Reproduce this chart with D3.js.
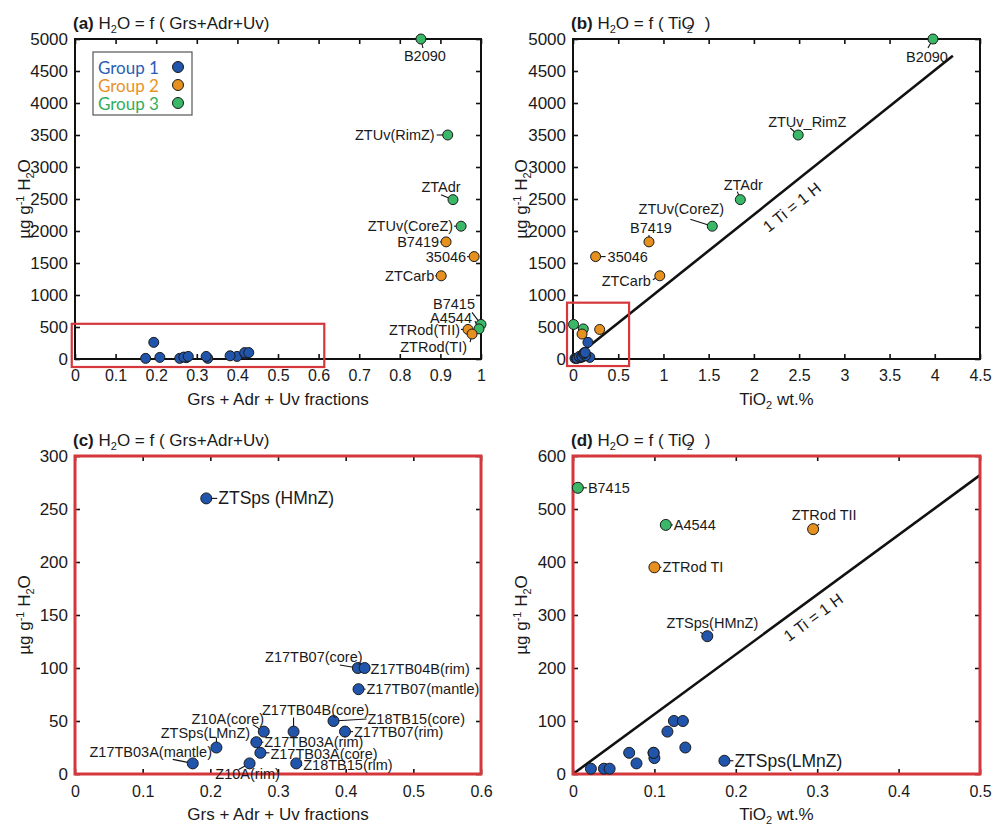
<!DOCTYPE html>
<html><head><meta charset="utf-8">
<script src="https://cdn.jsdelivr.net/npm/d3@7"></script>
<style>
body{margin:0;background:#fff}
svg{display:block}
text{font-family:"Liberation Sans",Arial,Helvetica,sans-serif;fill:#1a1a1a}
</style>
</head><body>
<svg id="chart" width="996" height="827"></svg>
<script>
// ---------------- DATA ----------------
const names = ["B2090","ZTUv(RimZ)","ZTAdr","ZTUv(CoreZ)","B7415","A4544",
  "B7419","35046","ZTCarb","ZTRod(TII)","ZTRod(TI)",
  "ZTSps(HMnZ)","ZTSps(LMnZ)","Z17TB03A(mantle)","Z10A(rim)","Z18TB15(rim)","Z17TB03A(core)",
  "Z17TB03A(rim)","Z10A(core)","Z17TB04B(core)","Z17TB07(rim)","Z18TB15(core)","Z17TB07(mantle)",
  "Z17TB07(core)","Z17TB04B(rim)"];
const groups = [3,3,3,3,3,3, 2,2,2,2,2, 1,1,1,1,1,1,1,1,1,1,1,1,1,1];
const grsFrac = [0.852,0.918,0.931,0.951,1.0,0.995, 0.914,0.983,0.902,0.968,0.978,
  0.194,0.209,0.174,0.258,0.327,0.274,0.268,0.279,0.323,0.399,0.382,0.419,0.418,0.428];
const tio2 = [3.98,2.49,1.85,1.54,0.006,0.114, 0.84,0.25,0.96,0.295,0.100,
  0.165,0.186,0.022,0.038,0.045,0.078,0.100,0.069,0.099,0.099,0.138,0.116,0.124,0.135];
const h2o = [5000,3500,2490,2075,540,470, 1830,1600,1300,462,390,
  260,25,10,10,10,20,30,40,40,40,50,80,100,100];

const groupNames = ["Group 1","Group 2","Group 3"];

const xTicksA = [0,0.1,0.2,0.3,0.4,0.5,0.6,0.7,0.8,0.9,1];
const xLabelsA = ["0","0.1","0.2","0.3","0.4","0.5","0.6","0.7","0.8","0.9","1"];
const yTicksAB = [0,500,1000,1500,2000,2500,3000,3500,4000,4500,5000];
const xTicksB = [0,0.5,1,1.5,2,2.5,3,3.5,4,4.5];
const xLabelsB = ["0","0.5","1","1.5","2","2.5","3","3.5","4","4.5"];
const xTicksC = [0,0.1,0.2,0.3,0.4,0.5,0.6];
const xLabelsC = ["0","0.1","0.2","0.3","0.4","0.5","0.6"];
const yTicksC = [0,50,100,150,200,250,300];
const xTicksD = [0,0.1,0.2,0.3,0.4,0.5];
const xLabelsD = ["0","0.1","0.2","0.3","0.4","0.5"];
const yTicksD = [0,100,200,300,400,500,600];

// 1 Ti = 1 H : H2O (µg/g) per TiO2 wt.%
const tiSlope = 0.01/79.87*0.5*18.015*1e6;

// label texts per panel
const labelTextA = {"B2090":"B2090","ZTUv(RimZ)":"ZTUv(RimZ)","ZTAdr":"ZTAdr","ZTUv(CoreZ)":"ZTUv(CoreZ)",
  "B7419":"B7419","35046":"35046","ZTCarb":"ZTCarb","B7415":"B7415","A4544":"A4544",
  "ZTRod(TII)":"ZTRod(TII)","ZTRod(TI)":"ZTRod(TI)"};
const labelTextB = {"B2090":"B2090","ZTUv(RimZ)":"ZTUv_RimZ","ZTAdr":"ZTAdr","ZTUv(CoreZ)":"ZTUv(CoreZ)",
  "B7419":"B7419","35046":"35046","ZTCarb":"ZTCarb"};
const labelTextC = {"ZTSps(HMnZ)":"ZTSps (HMnZ)","Z17TB07(core)":"Z17TB07(core)","Z17TB04B(rim)":"Z17TB04B(rim)",
  "Z17TB07(mantle)":"Z17TB07(mantle)","Z18TB15(core)":"Z18TB15(core)","Z17TB07(rim)":"Z17TB07(rim)",
  "Z17TB04B(core)":"Z17TB04B(core)","Z10A(core)":"Z10A(core)","Z17TB03A(rim)":"Z17TB03A(rim)",
  "Z17TB03A(core)":"Z17TB03A(core)","Z18TB15(rim)":"Z18TB15(rim)","Z10A(rim)":"Z10A(rim)",
  "ZTSps(LMnZ)":"ZTSps(LMnZ)","Z17TB03A(mantle)":"Z17TB03A(mantle)"};
const labelTextD = {"B7415":"B7415","A4544":"A4544","ZTRod(TI)":"ZTRod TI","ZTRod(TII)":"ZTRod TII",
  "ZTSps(HMnZ)":"ZTSps(HMnZ)","ZTSps(LMnZ)":"ZTSps(LMnZ)"};

// ---------------- LAYOUT / STYLE ----------------
const fill = {1:"#2055ab",2:"#e5901f",3:"#3ab868"};
const legendCol = {1:"#2a5db3",2:"#e8922a",3:"#2fae5c"};
const RED = "#d5373b";
// label offsets: [tx,ty,anchor,lx,ly,size]
const offA = {"B2090":[4,17,"middle",2,9],"ZTUv(RimZ)":[-13,0,"end",-11,0],"ZTAdr":[-12,-13,"middle",-12,-5],
  "ZTUv(CoreZ)":[-8,0,"end",-7,0],"B7419":[-7,0,"end",-6,0],"35046":[-8,0,"end",-7,0],"ZTCarb":[-7,0,"end",-6,0],
  "B7415":[-27,-20,"middle",-9,-12],"A4544":[-7,-11,"end",-4,-8],"ZTRod(TII)":[-8,1,"end",-7,0],
  "ZTRod(TI)":[-5,13,"end",-2,8]};
const offB = {"B2090":[-6,18,"middle",-5,9],"ZTUv(RimZ)":[9,-13,"middle",-8,-7],"ZTAdr":[3,-15,"middle",-3,-8],
  "ZTUv(CoreZ)":[-31,-17,"middle",-22,-7],"B7419":[2,-14,"middle",0,-7],"35046":[12,0,"start",10,0],
  "ZTCarb":[-9,5,"end",-7,4]};
const offC = {"ZTSps(HMnZ)":[12,0,"start",11,0,17.5],"Z17TB07(core)":[-44,-11,"middle",-18,-3],
  "Z17TB04B(rim)":[6,1,"start",5,0],"Z17TB07(mantle)":[8,0,"start",7,0],"Z18TB15(core)":[34,-2,"start",33,-2],
  "Z17TB07(rim)":[9,0,"start",8,0],"Z17TB04B(core)":[22,-22,"middle",0,-14],"Z10A(core)":[-36,-13,"middle",-11,-7],
  "Z17TB03A(rim)":[8,0,"start",7,0],"Z17TB03A(core)":[10,1,"start",9,0],"Z18TB15(rim)":[7,2,"start",6,2],
  "Z10A(rim)":[-2,11,"middle",-11,6],"ZTSps(LMnZ)":[-11,-15,"middle",0,-10],"Z17TB03A(mantle)":[-42,-11,"middle",-20,-4]};
const offD = {"B7415":[10,0,"start",9,0],"A4544":[8,0,"start",7,0],"ZTRod(TI)":[8,0,"start",7,0],
  "ZTRod(TII)":[11,-14,"middle",6,-5],"ZTSps(HMnZ)":[5,-13,"middle",-7,-4],"ZTSps(LMnZ)":[10,0,"start",9,0,17.5]};

const svg = d3.select("#chart");
const rows = names.map((n,i)=>({name:n,group:groups[i],frac:grsFrac[i],ti:tio2[i],h:h2o[i]}));

function richText(sel, parts){
  parts.forEach(p=>{
    const t = sel.append("tspan").text(p.t);
    if(p.dy) t.attr("dy",p.dy);
    if(p.dx) t.attr("dx",p.dx);
    if(p.fs) t.attr("font-size",p.fs);
    if(p.bold) t.attr("font-weight","bold");
  });
}

function drawPanel(p){
  const g = svg.append("g");
  const x = d3.scaleLinear().domain(p.xDom).range([p.L,p.R]);
  const y = d3.scaleLinear().domain(p.yDom).range([p.B,p.T]);
  const tk = 5;
  const styleAxis = a => {a.select(".domain").remove();
    a.selectAll("line").attr("stroke","#111").attr("stroke-width",1.6);
    a.attr("font-family",null).attr("font-size",null);
    a.selectAll("text").attr("fill","#1a1a1a");};
  g.append("g").attr("transform",`translate(0,${p.B})`)
    .call(d3.axisBottom(x).tickValues(p.xTicks).tickSize(-tk).tickPadding(p.xPad).tickFormat((d,i)=>p.xLabels[i]))
    .call(styleAxis).selectAll("text").style("font-size","16px");
  g.append("g").attr("transform",`translate(0,${p.T})`)
    .call(d3.axisTop(x).tickValues(p.xTicks).tickSize(-tk).tickFormat(""))
    .call(styleAxis);
  g.append("g").attr("transform",`translate(${p.L},0)`)
    .call(d3.axisLeft(y).tickValues(p.yTicks).tickSize(-tk).tickPadding(7).tickFormat(d3.format("d")))
    .call(styleAxis).selectAll("text").style("font-size","17px");
  g.append("g").attr("transform",`translate(${p.R},0)`)
    .call(d3.axisRight(y).tickValues(p.yTicks).tickSize(-tk).tickFormat(""))
    .call(styleAxis);

  // reference line
  if(p.line){
    const xe = p.line;
    g.append("line").attr("x1",x(0)).attr("y1",y(0)).attr("x2",x(xe)).attr("y2",y(xe*tiSlope))
      .attr("stroke","#111").attr("stroke-width",2.6);
    const ang = Math.atan2(y(0)-y(tiSlope), x(1)-x(0))*180/Math.PI;
    const lx = x(p.lineLabelX), ly = y(p.lineLabelX*tiSlope)+p.lineLabelDy;
    g.append("text").attr("transform",`translate(${lx},${ly}) rotate(${-ang})`)
      .attr("text-anchor","middle").attr("dominant-baseline","central")
      .style("font-size","16px").text("1 Ti = 1 H");
  }

  // frame
  g.append("rect").attr("x",p.L).attr("y",p.T).attr("width",p.R-p.L).attr("height",p.B-p.T)
    .attr("fill","none").attr("stroke",p.frameColor).attr("stroke-width",p.frameW);

  // zoom box
  if(p.zoomBox){
    const z = p.zoomBox;
    g.append("rect").attr("x",x(z[0])).attr("y",y(z[3])).attr("width",x(z[1])-x(z[0])).attr("height",y(z[2])-y(z[3]))
      .attr("fill","none").attr("stroke",RED).attr("stroke-width",2.2);
  }

  const data = rows.filter(p.filter);
  const px = d => x(d[p.xKey]), py = d => y(d.h);
  // leaders
  data.filter(d=>p.off[d.name]).forEach(d=>{
    const o = p.off[d.name];
    g.append("line").attr("x1",px(d)).attr("y1",py(d)).attr("x2",px(d)+o[3]).attr("y2",py(d)+o[4])
      .attr("stroke","#111").attr("stroke-width",1.1);
  });
  g.selectAll("circle.pt").data(data).join("circle").attr("class","pt")
    .attr("cx",px).attr("cy",py).attr("r",p.r)
    .attr("fill",d=>fill[d.group]).attr("stroke","#1a1a1a").attr("stroke-width",1);
  data.filter(d=>p.off[d.name]).forEach(d=>{
    const o = p.off[d.name];
    g.append("text").attr("x",px(d)+o[0]).attr("y",py(d)+o[1]).attr("text-anchor",o[2])
      .attr("dominant-baseline","central").style("font-size",(o[5]||14.5)+"px").text(p.labels[d.name]);
  });

  // title
  const t = g.append("text").attr("x",p.L-2).attr("y",p.T-10).style("font-size","17px");
  richText(t,p.title);
  // x label
  const xl = g.append("text").attr("x",(p.L+p.R)/2).attr("y",p.B+46).attr("text-anchor","middle").style("font-size","17px");
  richText(xl,p.xTitle);
  // y label
  const yl = g.append("text").attr("transform",`translate(${p.L-p.yLabOff},${(p.T+p.B)/2}) rotate(-90)`)
    .attr("text-anchor","middle").style("font-size","17px");
  richText(yl,[{t:"µg g"},{t:"-1",dy:-6,fs:"11px"},{t:" H",dy:6},{t:"2",dy:4,fs:"11px"},{t:"O",dy:-4}]);
}

const h2oTitle = [{t:"H"},{t:"2",dy:4,fs:"11px"},{t:"O = f ( ",dy:-4}];
const tiOTitle = [{t:"TiO"},{t:"2",dx:-8,dy:4,fs:"11px"},{t:")",dx:12,dy:-4}];
const fracTitle = [{t:"Grs + Adr + Uv fractions"}];
const tiTitle = [{t:"TiO"},{t:"2",dy:4,fs:"11px"},{t:" wt.%",dy:-4}];

const rowTop = {T:39,B:359}, rowBot = {T:456,B:774};
const colLeft = {L:75,R:481}, colRight = {L:573,R:980};

drawPanel({...rowTop,...colLeft,xDom:[0,1],yDom:[0,5000],xTicks:xTicksA,xLabels:xLabelsA,yTicks:yTicksAB,xPad:11,
  xKey:"frac",filter:d=>true,off:offA,labels:labelTextA,r:5,frameColor:"#111",frameW:2,
  zoomBox:[-0.008,0.614,-125,550],yLabOff:45,
  title:[{t:"(a) ",bold:true},...h2oTitle,{t:"Grs+Adr+Uv)"}],xTitle:fracTitle});
drawPanel({...rowTop,...colRight,xDom:[0,4.5],yDom:[0,5000],xTicks:xTicksB,xLabels:xLabelsB,yTicks:yTicksAB,xPad:11,
  xKey:"ti",filter:d=>true,off:offB,labels:labelTextB,r:5,frameColor:"#111",frameW:2,
  zoomBox:[-0.066,0.62,-110,880],line:4.2,lineLabelX:2.42,lineLabelDy:23,yLabOff:46,
  title:[{t:"(b) ",bold:true},...h2oTitle,...tiOTitle],xTitle:tiTitle});
drawPanel({...rowBot,...colLeft,xDom:[0,0.6],yDom:[0,300],xTicks:xTicksC,xLabels:xLabelsC,yTicks:yTicksC,xPad:12,
  xKey:"frac",filter:d=>d.group===1,off:offC,labels:labelTextC,r:5.5,frameColor:RED,frameW:3,yLabOff:45,
  title:[{t:"(c) ",bold:true},...h2oTitle,{t:"Grs+Adr+Uv)"}],xTitle:fracTitle});
drawPanel({...rowBot,...colRight,xDom:[0,0.5],yDom:[0,600],xTicks:xTicksD,xLabels:xLabelsD,yTicks:yTicksD,xPad:12,
  xKey:"ti",filter:d=>d.h<1000,off:offD,labels:labelTextD,r:5.5,frameColor:RED,frameW:3,
  line:0.5,lineLabelX:0.2953,lineLabelDy:20,yLabOff:46,
  title:[{t:"(d) ",bold:true},...h2oTitle,...tiOTitle],xTitle:tiTitle});

// legend in (a)
const lg = svg.append("g");
lg.append("rect").attr("x",93).attr("y",52).attr("width",99).attr("height",63)
  .attr("fill","#fff").attr("stroke","#555").attr("stroke-width",1.2);
groupNames.forEach((gname,i)=>{
  const yy = 67 + i*18;
  lg.append("text").attr("x",98).attr("y",yy).attr("dominant-baseline","central")
    .style("font-family","Lato, 'Open Sans', sans-serif").style("font-size","17px")
    .style("fill",legendCol[i+1]).text(gname);
  lg.append("circle").attr("cx",178).attr("cy",yy).attr("r",5.5)
    .attr("fill",fill[i+1]).attr("stroke","#1a1a1a").attr("stroke-width",1);
});
</script>
</body></html>
